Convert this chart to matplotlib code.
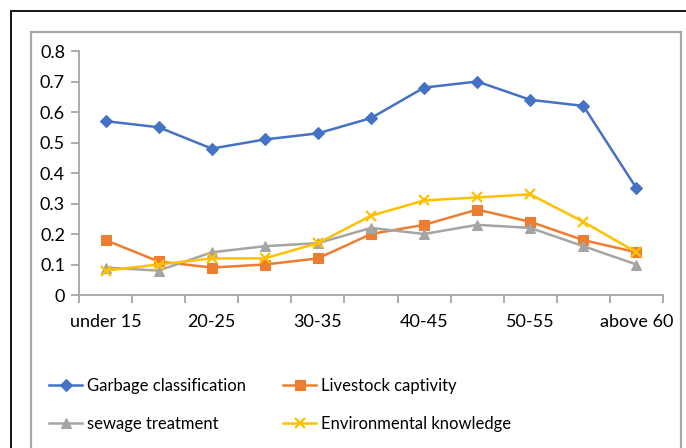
#!/usr/bin/env python3
"""Awareness scores by age group, four environmental topics."""

import matplotlib
matplotlib.use("Agg")
import matplotlib.pyplot as plt
from matplotlib.patches import Rectangle

age_groups = ["under 15", "15-20", "20-25", "25-30", "30-35", "35-40",
              "40-45", "45-50", "50-55", "55-60", "above 60"]
garbage = [0.57, 0.55, 0.48, 0.51, 0.53, 0.58, 0.68, 0.70, 0.64, 0.62, 0.35]
livestock = [0.18, 0.11, 0.09, 0.10, 0.12, 0.20, 0.23, 0.28, 0.24, 0.18, 0.14]
sewage = [0.09, 0.08, 0.14, 0.16, 0.17, 0.22, 0.20, 0.23, 0.22, 0.16, 0.10]
env_knowledge = [0.08, 0.10, 0.12, 0.12, 0.17, 0.26, 0.31, 0.32, 0.33, 0.24, 0.14]
y_ticks = [0, 0.1, 0.2, 0.3, 0.4, 0.5, 0.6, 0.7, 0.8]

plt.rcParams["font.family"] = ["Lato", "DejaVu Sans"]

W, H = 686, 448
fig = plt.figure(figsize=(W / 100, H / 100), dpi=100)

# outer black frame and inner grey chart-area border
fig.patches.append(Rectangle((10.5 / W, -0.1), 2.0, 1 - 11 / H + 0.1,
                             transform=fig.transFigure, fill=False,
                             edgecolor="black", lw=1.3))
fig.patches.append(Rectangle((30.5 / W, -0.1), (681 - 30.5) / W, 1 - 32 / H + 0.1,
                             transform=fig.transFigure, fill=False,
                             edgecolor="#a6a6a6", lw=1.6))

ax = fig.add_axes([79 / W, 1 - 295 / H, (663 - 79) / W, (295 - 51) / H])

x = list(range(len(age_groups)))
series = [
    (garbage, "Garbage classification", "#4472C4", "D", 6),
    (livestock, "Livestock captivity", "#ED7D31", "s", 7),
    (sewage, "sewage treatment", "#A5A5A5", "^", 7),
    (env_knowledge, "Environmental knowledge", "#FFC000", "x", 7),
]
lines = []
for vals, label, color, marker, ms in series:
    ln, = ax.plot(x, vals, color=color, lw=1.8, marker=marker, markersize=ms,
                  markeredgewidth=1.6 if marker == "x" else 0.8,
                  markeredgecolor=color, label=label)
    lines.append(ln)

ax.set_xlim(-0.5, len(age_groups) - 0.5)
ax.set_ylim(0, 0.8)
ax.set_yticks(y_ticks)
ax.set_yticklabels([f"{v:g}" for v in y_ticks], fontsize=13)

ax.set_xticks([i + 0.5 for i in range(-1, len(age_groups))])
ax.set_xticklabels([])
ax.set_xticks(x[::2], minor=True)
ax.set_xticklabels(age_groups[::2], minor=True, fontsize=13)
ax.tick_params(axis="x", which="minor", length=0, pad=14)
ax.tick_params(axis="x", which="major", length=6, color="#a6a6a6", width=1.3)
ax.tick_params(axis="y", length=6, color="#a6a6a6", width=1.3, pad=4)

for side in ("top", "right"):
    ax.spines[side].set_visible(False)
for side in ("left", "bottom"):
    ax.spines[side].set_color("#a6a6a6")
    ax.spines[side].set_linewidth(1.3)

# legend fills column-first, so order handles to read row by row
order = [0, 2, 1, 3]
ax.legend([lines[i] for i in order], [series[i][1] for i in order],
          loc="upper left", bbox_to_anchor=(34 / W, 1 - 363 / H),
          bbox_transform=fig.transFigure, ncol=2, frameon=False,
          fontsize=12, handlelength=2.0, columnspacing=2.2,
          labelspacing=1.3, handletextpad=0.3)

fig.savefig("out.png", dpi=100)
